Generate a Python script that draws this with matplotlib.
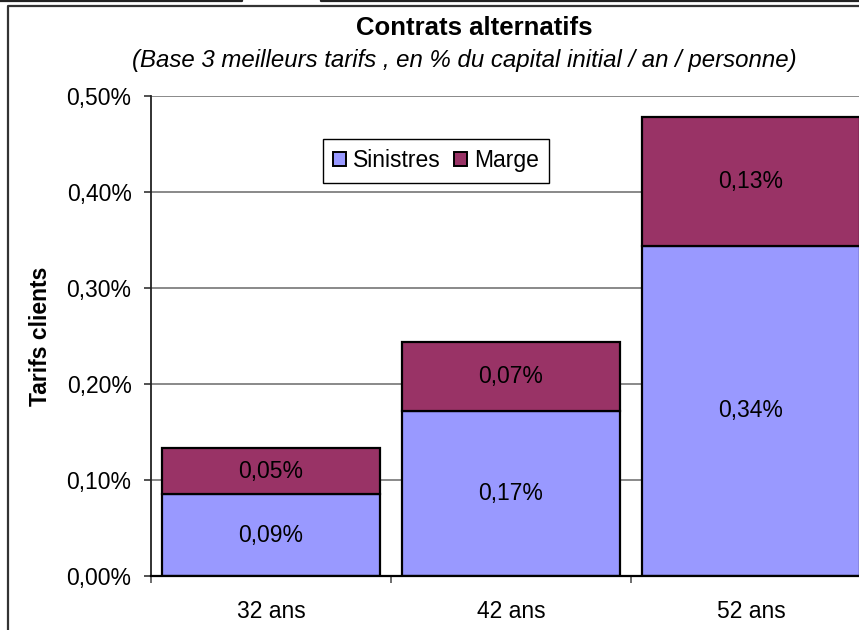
import matplotlib
matplotlib.use("Agg")
import matplotlib.pyplot as plt
from matplotlib.lines import Line2D
from matplotlib.patches import Patch

plt.rcParams["font.family"] = ["Liberation Sans", "DejaVu Sans"]

# Tarifs clients, en % du capital initial / an / personne
categories = ["32 ans", "42 ans", "52 ans"]
sinistres = [0.0852, 0.1719, 0.3440]
marge = [0.0480, 0.0718, 0.1338]
y_ticks = [0.0, 0.1, 0.2, 0.3, 0.4, 0.5]
y_tick_labels = ["0,00%", "0,10%", "0,20%", "0,30%", "0,40%", "0,50%"]
series_names = ["Sinistres", "Marge"]

c_sin = "#9999FF"
c_mar = "#993366"
FS = 16.5

W, H = 859, 630
fig = plt.figure(figsize=(W / 100, H / 100), dpi=100)
fig.patch.set_facecolor("white")

ax = fig.add_axes([151 / W, (H - 576) / H, 720 / W, 480 / H])
ax.set_facecolor("white")

x = list(range(len(categories)))
bw = 0.906
ax.bar(x, sinistres, width=bw, color=c_sin, edgecolor="black", linewidth=1.6, zorder=3)
ax.bar(x, marge, width=bw, bottom=sinistres, color=c_mar, edgecolor="black",
       linewidth=1.6, zorder=3)

def fmt(v):
    return f"{v:.2f}%".replace(".", ",")

for i in x:
    ax.text(i, sinistres[i] / 2, fmt(sinistres[i]), ha="center", va="center",
            fontsize=FS, zorder=4)
    ax.text(i, sinistres[i] + marge[i] / 2, fmt(marge[i]), ha="center", va="center",
            fontsize=FS, zorder=4)

ax.set_xlim(-0.5, len(categories) - 0.5)
ax.set_ylim(0, 0.5)
ax.set_yticks(y_ticks)
ax.set_yticklabels(y_tick_labels, fontsize=FS)
ax.yaxis.grid(True, color="#808080", linewidth=1.3, zorder=0)
ax.set_axisbelow(True)

ax.set_xticks(x)
ax.set_xticklabels(categories, fontsize=FS)
ax.set_xticks([i + 0.5 for i in x[:-1]] + [-0.5], minor=True)
ax.tick_params(axis="x", which="major", length=0, pad=17)
ax.tick_params(axis="x", which="minor", length=5, width=1.2, direction="out", color="#555555")
ax.tick_params(axis="y", length=5, width=1.2, direction="out", pad=9, color="#333333")

for s in ["top", "right"]:
    ax.spines[s].set_visible(False)
ax.spines["left"].set_color("#222222")
ax.spines["left"].set_linewidth(1.3)
ax.spines["bottom"].set_color("black")
ax.spines["bottom"].set_linewidth(1.6)
ax.spines["left"].set_zorder(5)
ax.spines["bottom"].set_zorder(5)

ax.set_ylabel("Tarifs clients", fontsize=FS, fontweight="bold")
ax.yaxis.set_label_coords((52 - 151) / 720, 0.5)

fig.text(474 / W, 1 - 35 / H, "Contrats alternatifs", ha="center", va="baseline",
         fontsize=18.5, fontweight="bold")
fig.text(464 / W, 1 - 67 / H,
         "(Base 3 meilleurs tarifs , en % du capital initial / an / personne)",
         ha="center", va="baseline", fontsize=17.3, fontstyle="italic")

handles = [Patch(facecolor=c_sin, edgecolor="black", linewidth=1.4),
           Patch(facecolor=c_mar, edgecolor="black", linewidth=1.4)]
leg = fig.legend(handles, series_names, loc="upper left",
                 bbox_to_anchor=(323 / W, 1 - 139 / H), bbox_transform=fig.transFigure,
                 ncol=2, fontsize=FS, frameon=True, fancybox=False, framealpha=1,
                 edgecolor="black", handlelength=0.55, handleheight=0.55,
                 handletextpad=0.3, columnspacing=0.6, borderpad=0.45,
                 borderaxespad=0)
leg.get_frame().set_linewidth(1.0)

# chart frame and neighbouring boxes
def fline(xs, ys, **kw):
    fig.add_artist(Line2D([v / W for v in xs], [1 - v / H for v in ys],
                          transform=fig.transFigure, **kw))

fline([8, 8, W + 5], [H + 5, 6, 6], color="#333333", linewidth=1.6)
fline([0, 242, 242], [1, 1, -2], color="#222222", linewidth=1.6)
fline([321, 321, W + 5], [-2, 1, 1], color="#222222", linewidth=1.6)

fig.savefig("out.png", dpi=100)
